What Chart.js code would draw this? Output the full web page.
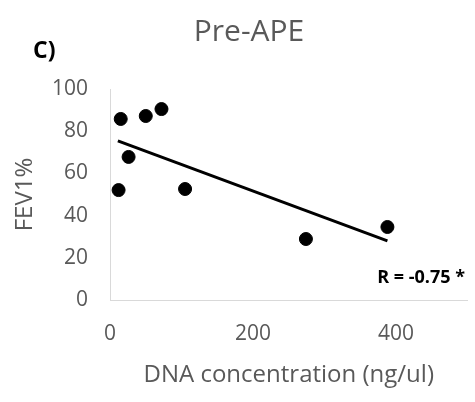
<!DOCTYPE html>
<html>
<head>
<meta charset="utf-8">
<script src="https://cdn.jsdelivr.net/npm/chart.js@4/dist/chart.umd.min.js"></script>
<style>
  html, body { margin: 0; padding: 0; background: #fff; }
  #wrap { width: 475px; height: 402px; }
</style>
</head>
<body>
<div id="wrap"><canvas id="graphCanvas" width="475" height="402"></canvas></div>
<script>
// datos
const dnaConc = [12, 15, 26, 50, 72, 105, 274, 388];
const fev1 = [52.1, 85.8, 67.8, 87.2, 90.5, 52.6, 28.9, 34.6];
const trendX = [11, 388];
const trendY = [75.4, 28];
const xTickValues = [0, 200, 400];

const gris = '#595959';
const fuente = "'Open Sans', sans-serif";

// textos extra: titulo, "C)" y el valor de R
const textosPlugin = {
    id: 'textos',
    afterDraw(chart) {
        const ctx = chart.ctx;
        ctx.save();
        ctx.textBaseline = 'middle';
        ctx.fillStyle = gris;
        ctx.textAlign = 'center';
        ctx.font = '30px ' + fuente;
        ctx.fillText('Pre-APE', 249, 32);

        ctx.fillStyle = '#000';
        ctx.textAlign = 'left';
        ctx.font = 'bold 23px ' + fuente;
        ctx.fillText('C)', 33, 51);

        ctx.textAlign = 'right';
        ctx.font = 'bold 18px ' + fuente;
        ctx.fillText('R = -0.75 *', 465, 278);
        ctx.restore();
    }
};

const ctx = document.getElementById('graphCanvas').getContext('2d');
const chart = new Chart(ctx, {
    type: 'scatter',
    data: {
        datasets: [{
            label: 'FEV1%',
            data: dnaConc.map((x, i) => ({ x, y: fev1[i] })),
            backgroundColor: '#000',
            borderColor: '#000',
            pointRadius: 6.5,
            pointHoverRadius: 6.5,
            order: 1
        }, {
            type: 'line',
            label: 'tendencia',
            data: trendX.map((x, i) => ({ x, y: trendY[i] })),
            borderColor: '#000',
            borderWidth: 3,
            pointRadius: 0,
            fill: false,
            order: 2
        }]
    },
    options: {
        responsive: false,
        animation: false,
        layout: { padding: { left: 0, right: 2, top: 89, bottom: 0 } },
        plugins: {
            legend: { display: false },
            tooltip: { enabled: false },
            title: { display: false }
        },
        scales: {
            x: {
                type: 'linear',
                min: 0,
                max: 500,
                afterBuildTicks: scale => {
                    scale.ticks = xTickValues.map(v => ({ value: v }));
                },
                afterFit: scale => { scale.height = 102; },
                grid: { display: false, drawTicks: false },
                border: { display: true, color: '#d9d9d9', width: 1 },
                ticks: { color: gris, padding: 21, font: { family: fuente, size: 21 } },
                title: {
                    display: true,
                    text: 'DNA concentration (ng/ul)',
                    color: gris,
                    padding: { top: 0, bottom: 12 },
                    font: { family: fuente, size: 24 }
                }
            },
            y: {
                min: 0,
                max: 100,
                ticks: { stepSize: 20, color: gris, padding: 22, font: { family: fuente, size: 21 } },
                afterFit: scale => { scale.width = 110; },
                grid: { display: false, drawTicks: false },
                border: { display: true, color: '#d9d9d9', width: 1 },
                title: {
                    display: true,
                    text: 'FEV1%',
                    color: gris,
                    padding: { top: 11, bottom: 0 },
                    font: { family: fuente, size: 24 }
                }
            }
        }
    },
    plugins: [textosPlugin]
});
</script>
</body>
</html>
